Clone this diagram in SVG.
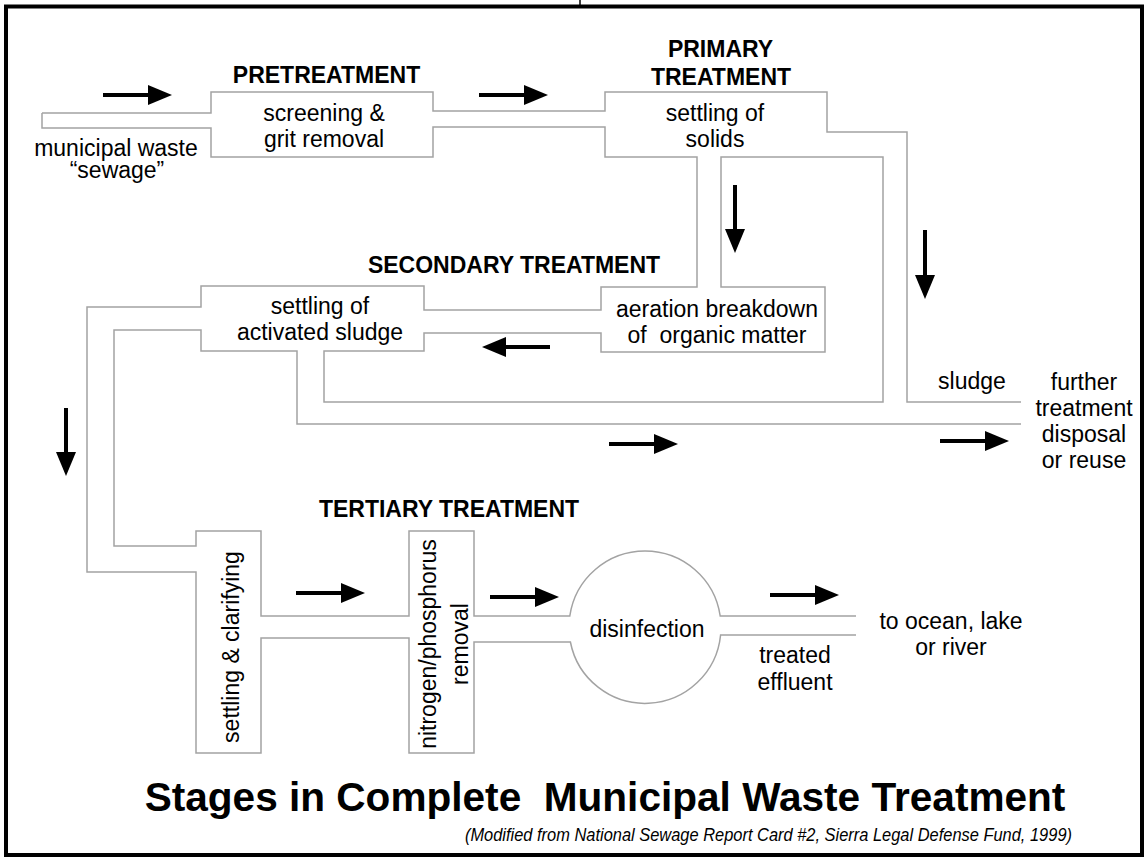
<svg xmlns="http://www.w3.org/2000/svg" width="1146" height="859" viewBox="0 0 1146 859">
<defs>
<style>
.pipe{fill:none;stroke:#a3a3a3;stroke-width:1.5;stroke-linejoin:miter}
.arr{fill:none;stroke:#000;stroke-width:4;marker-end:url(#ah)}
.t{font-family:"Liberation Sans",Arial,sans-serif;font-size:23px;fill:#000;text-anchor:middle;white-space:pre}
.h{font-family:"Liberation Sans",Arial,sans-serif;font-size:23px;font-weight:bold;fill:#000;text-anchor:middle}
</style>
<marker id="ah" markerUnits="userSpaceOnUse" markerWidth="24" markerHeight="20" refX="2" refY="10" orient="auto" viewBox="0 0 24 20">
<path d="M0,0 L24,10 L0,20 Z" fill="#000"/>
</marker>
</defs>
<rect x="0" y="0" width="1146" height="859" fill="#fff"/>
<rect x="6" y="6.5" width="1136" height="848.5" fill="none" stroke="#000" stroke-width="4"/>
<line x1="580" y1="0" x2="580" y2="5" stroke="#000" stroke-width="1.5"/>

<g id="connectors">
<path class="pipe" d="M42,113 L211,113 L211,92 L433,92 L433,111 L605,111 L605,92 L827,92 L827,132 L907,132 L907,402 L1021,402"/>
<path class="pipe" d="M42,113 L42,128 L211,128 L211,157 L433,157 L433,127 L605,127 L605,157 L697,157 L697,287 L601,287 L601,310 L424,310 L424,286 L201,286 L201,307 L87,307 L87,572 L196,572 L196,753 L261,753 L261,638 L409,638 L409,753 L474,753 L474,642 L570.4,642 A76,76 0 0 0 720.6,635 L856,635"/>
<path class="pipe" d="M721,157 L883,157 L883,402 L324,402 L324,351 L424,351 L424,333 L601,333 L601,352 L825,352 L825,287 L721,287 Z"/>
<path class="pipe" d="M1021,424 L297,424 L297,351 L201,351 L201,330 L114,330 L114,546 L196,546 L196,531 L261,531 L261,616 L409,616 L409,531 L474,531 L474,616 L569.8,616 A76,76 0 0 1 720.2,616 L856,616"/>
<line class="arr" x1="103" y1="95" x2="150" y2="95"/>
<line class="arr" x1="479" y1="95" x2="526" y2="95"/>
<line class="arr" x1="735" y1="185" x2="735" y2="231"/>
<line class="arr" x1="925" y1="230" x2="925" y2="277"/>
<line class="arr" x1="550" y1="347" x2="504" y2="347"/>
<line class="arr" x1="609" y1="444" x2="656" y2="444"/>
<line class="arr" x1="940" y1="441" x2="987" y2="441"/>
<line class="arr" x1="66" y1="408" x2="66" y2="454"/>
<line class="arr" x1="296" y1="593" x2="343" y2="593"/>
<line class="arr" x1="490" y1="597" x2="537" y2="597"/>
<line class="arr" x1="770" y1="595" x2="817" y2="595"/>
</g>

<g id="source">
<text class="t" x="116" y="156">municipal waste</text>
<text class="t" x="117" y="178">“sewage”</text>
</g>
<g id="pretreatment">
<text class="h" x="326.5" y="83">PRETREATMENT</text>
<text class="t" x="324" y="121">screening &amp;</text>
<text class="t" x="324" y="147">grit removal</text>
</g>
<g id="primary">
<text class="h" x="720.5" y="57">PRIMARY</text>
<text class="h" x="721" y="85">TREATMENT</text>
<text class="t" x="715" y="121">settling of</text>
<text class="t" x="715" y="147">solids</text>
</g>
<g id="secondary-settling">
<text class="h" x="514" y="273">SECONDARY TREATMENT</text>
<text class="t" x="320" y="314">settling of</text>
<text class="t" x="320" y="340">activated sludge</text>
</g>
<g id="aeration">
<text class="t" x="717" y="317">aeration breakdown</text>
<text class="t" x="717" y="343">of  organic matter</text>
</g>
<g id="sludge">
<text class="t" x="972" y="389">sludge</text>
</g>
<g id="further-treatment">
<text class="t" x="1084" y="390">further</text>
<text class="t" x="1084" y="416">treatment</text>
<text class="t" x="1084" y="442">disposal</text>
<text class="t" x="1084" y="468">or reuse</text>
</g>
<g id="tertiary-settling">
<text class="h" x="449" y="517">TERTIARY TREATMENT</text>
<text class="t" transform="translate(238.5,647) rotate(-90)">settling &amp; clarifying</text>
</g>
<g id="nutrient-removal">
<text class="t" transform="translate(436,644) rotate(-90)">nitrogen/phosphorus</text>
<text class="t" transform="translate(468,644) rotate(-90)">removal</text>
</g>
<g id="disinfection">
<text class="t" x="647" y="637">disinfection</text>
</g>
<g id="effluent">
<text class="t" x="795" y="663">treated</text>
<text class="t" x="795" y="690">effluent</text>
</g>
<g id="outfall">
<text class="t" x="951" y="629">to ocean, lake</text>
<text class="t" x="951" y="655">or river</text>
</g>
<g id="title">
<text x="605" y="811" font-family="Liberation Sans, Arial, sans-serif" font-size="40.6" font-weight="bold" text-anchor="middle" style="white-space:pre">Stages in Complete  Municipal Waste Treatment</text>
<text transform="translate(1072,841) scale(0.865,1)" x="0" y="0" font-family="Liberation Sans, Arial, sans-serif" font-size="19" font-style="italic" text-anchor="end">(Modified from National Sewage Report Card #2, Sierra Legal Defense Fund, 1999)</text>
</g>
</svg>
